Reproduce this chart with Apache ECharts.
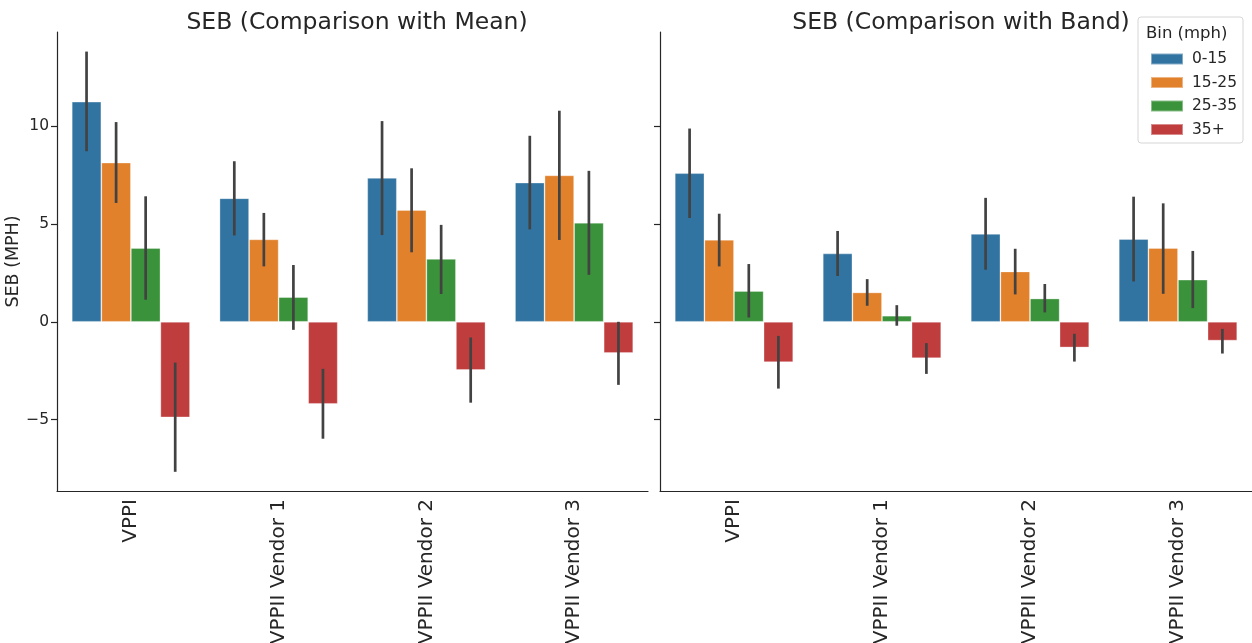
<!DOCTYPE html>
<html>
<head>
<meta charset="utf-8">
<script src="https://cdn.jsdelivr.net/npm/echarts@6/dist/echarts.min.js"></script>
<style>
  html, body { margin: 0; padding: 0; background: #fff; }
  #chart { width: 1252px; height: 643px; }
</style>
</head>
<body>
<div id="chart"></div>
<script>
const categories = ['VPPI', 'VPPII Vendor 1', 'VPPII Vendor 2', 'VPPII Vendor 3'];
const bins = ['0-15', '15-25', '25-35', '35+'];
const yTicks = [-5, 0, 5, 10];

// Comparison with Mean: one array per bin, across categories
const mean0_15 = [11.24, 6.31, 7.35, 7.11];
const mean15_25 = [8.13, 4.21, 5.71, 7.48];
const mean25_35 = [3.77, 1.26, 3.21, 5.06];
const mean35 = [-4.88, -4.19, -2.46, -1.59];
const meanLow0_15 = [8.71, 4.41, 4.43, 4.72];
const meanHigh0_15 = [13.8, 8.2, 10.25, 9.5];
const meanLow15_25 = [6.07, 2.83, 3.55, 4.18];
const meanHigh15_25 = [10.2, 5.56, 7.84, 10.78];
const meanLow25_35 = [1.13, -0.41, 1.42, 2.40];
const meanHigh25_35 = [6.41, 2.90, 4.95, 7.71];
const meanLow35 = [-7.66, -5.97, -4.13, -3.22];
const meanHigh35 = [-2.08, -2.40, -0.80, 0.0];

// Comparison with Band
const band0_15 = [7.59, 3.49, 4.49, 4.23];
const band15_25 = [4.19, 1.50, 2.57, 3.77];
const band25_35 = [1.57, 0.31, 1.19, 2.15];
const band35 = [-2.06, -1.86, -1.31, -0.96];
const bandLow0_15 = [5.30, 2.34, 2.66, 2.06];
const bandHigh0_15 = [9.87, 4.64, 6.33, 6.39];
const bandLow15_25 = [2.83, 0.82, 1.40, 1.43];
const bandHigh15_25 = [5.52, 2.18, 3.73, 6.05];
const bandLow25_35 = [0.22, -0.20, 0.48, 0.70];
const bandHigh25_35 = [2.95, 0.85, 1.93, 3.62];
const bandLow35 = [-3.41, -2.66, -2.03, -1.62];
const bandHigh35 = [-0.72, -1.09, -0.61, -0.36];

const colors = ['#3274a1', '#e1812c', '#3a923a', '#c03d3e'];
const font = 'DejaVu Sans';
const ink = '#262626';

const panels = [
  {
    title: 'SEB (Comparison with Mean)',
    bars: [mean0_15, mean15_25, mean25_35, mean35],
    low: [meanLow0_15, meanLow15_25, meanLow25_35, meanLow35],
    high: [meanHigh0_15, meanHigh15_25, meanHigh25_35, meanHigh35]
  },
  {
    title: 'SEB (Comparison with Band)',
    bars: [band0_15, band15_25, band25_35, band35],
    low: [bandLow0_15, bandLow15_25, bandLow25_35, bandLow35],
    high: [bandHigh0_15, bandHigh15_25, bandHigh25_35, bandHigh35]
  }
];

const chart = echarts.init(document.getElementById('chart'), null, { renderer: 'canvas' });

const grids = [
  { left: 57, width: 591, top: 32, bottom: 152, outerBoundsMode: 'none', containLabel: false },
  { left: 660, width: 592, top: 32, bottom: 152, outerBoundsMode: 'none', containLabel: false }
];

const xAxes = panels.map((p, g) => ({
  type: 'category',
  gridIndex: g,
  data: categories,
  axisLine: { onZero: false, lineStyle: { color: ink, width: 1.2 } },
  axisTick: { alignWithLabel: true, length: 6, lineStyle: { color: ink, width: 1.2 } },
  axisLabel: { rotate: 90, fontFamily: font, fontSize: 20, color: ink, margin: 8 }
}));

const yAxes = panels.map((p, g) => ({
  type: 'value',
  gridIndex: g,
  min: -8.64,
  max: 14.8,
  name: g === 0 ? 'SEB (MPH)' : '',
  nameLocation: 'middle',
  nameGap: 31,
  nameTextStyle: { fontFamily: font, fontSize: 17.5, color: ink },
  splitLine: { show: false },
  axisLine: { show: true, lineStyle: { color: ink, width: 1.2 } },
  axisTick: { show: true, length: 6, customValues: yTicks, lineStyle: { color: ink, width: 1.2 } },
  axisLabel: {
    show: g === 0,
    customValues: yTicks,
    fontFamily: font,
    fontSize: 15.5,
    color: ink,
    margin: 8,
    formatter: function (v) { return String(v).replace('-', '\u2212'); }
  }
}));

const series = [];
panels.forEach((p, g) => {
  bins.forEach((b, k) => {
    series.push({
      type: 'bar',
      name: b,
      xAxisIndex: g,
      yAxisIndex: g,
      data: p.bars[k],
      barGap: '0%',
      barCategoryGap: '20%',
      itemStyle: { color: colors[k], borderColor: 'rgba(255,255,255,0.4)', borderWidth: 0.8 },
      z: 2
    });
  });
  bins.forEach((b, k) => {
    series.push({
      type: 'custom',
      name: b + ' ci',
      xAxisIndex: g,
      yAxisIndex: g,
      z: 5,
      silent: true,
      data: categories.map((c, i) => [i, p.low[k][i], p.high[k][i]]),
      encode: { x: 0, y: [1, 2] },
      renderItem: function (params, api) {
        const ci = api.value(0);
        const lo = api.coord([ci, api.value(1)]);
        const hi = api.coord([ci, api.value(2)]);
        const bw = api.size([1, 0])[0];
        const x = lo[0] + (k - 1.5) * bw * 0.2;
        return {
          type: 'line',
          shape: { x1: x, y1: lo[1], x2: x, y2: hi[1] },
          style: { stroke: '#424242', lineWidth: 2.7 }
        };
      }
    });
  });
});

let option;

option = {
  animation: false,
  title: panels.map((p, g) => ({
    text: p.title,
    left: g === 0 ? 352 : 956,
    textAlign: 'center',
    top: 6,
    textStyle: { fontFamily: font, fontSize: 23.5, fontWeight: 'normal', color: ink }
  })),
  legend: {
    data: bins,
    orient: 'vertical',
    left: 1145,
    top: 46,
    itemWidth: 32,
    itemHeight: 11,
    itemGap: 7.5,
    icon: 'rect',
    z: 20,
    textStyle: { fontFamily: font, fontSize: 15.5, lineHeight: 15, color: ink, padding: [0, 0, 0, 4] }
  },
  graphic: [
    {
      type: 'rect',
      shape: { x: 1138, y: 17, width: 105, height: 126, r: 3 },
      style: { fill: 'rgba(255,255,255,0.8)', stroke: '#d6d6d6', lineWidth: 1 },
      z: 1
    },
    {
      type: 'text',
      x: 1146,
      y: 25,
      style: { text: 'Bin (mph)', fontFamily: font, fontSize: 16.5, fill: ink },
      z: 21
    }
  ],
  grid: grids,
  xAxis: xAxes,
  yAxis: yAxes,
  series: series
};

window.addEventListener('resize', function () {
  chart.resize();
});

option && chart.setOption(option);
</script>
</body>
</html>
